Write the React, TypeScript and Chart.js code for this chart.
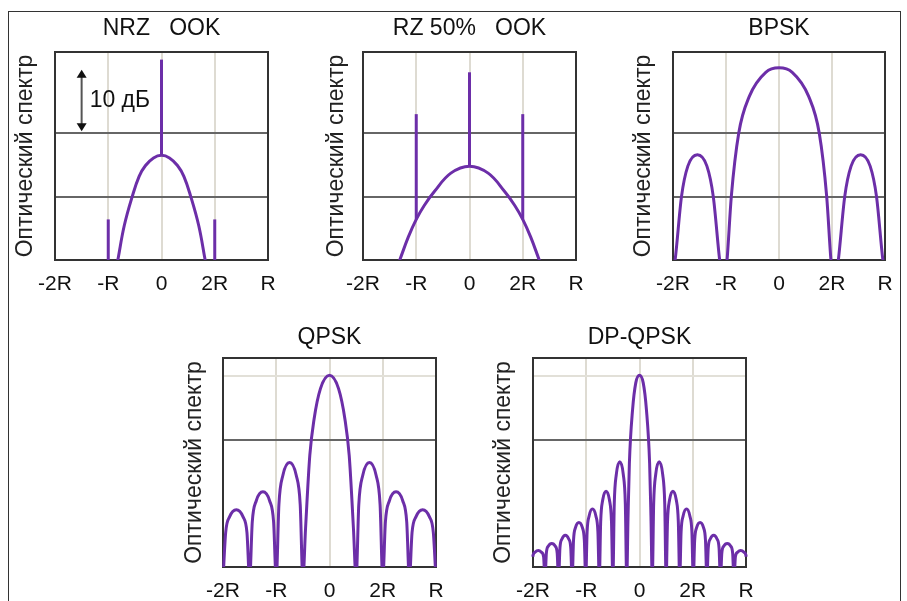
import React, { useEffect, useRef } from 'react';
import { Chart, registerables } from 'chart.js';

Chart.register(...registerables);

const FONT = "'Liberation Sans', Arial, Helvetica, sans-serif";
const PURPLE = '#6c2ea8';

// ---- axes ----
const tickValues = [-2, -1, 0, 1, 2];
const tickLabels = ['-2R', '-R', '0', '2R', 'R'];
const yAxisLabel = 'Оптический спектр';
const yMin = 0;
const yMax = 32.8;

// ---- NRZ OOK ----
const nrzCurveX = [-0.9, -0.82, -0.7, -0.55, -0.42, -0.3, -0.15, 0, 0.15, 0.3, 0.42, 0.55, 0.7, 0.82, 0.9];
const nrzCurveY = [-3.5, 0, 5.4, 10, 13.2, 14.9, 16.1, 16.5, 16.1, 14.9, 13.2, 10, 5.4, 0, -3.5];
const nrzSpikeX = [0, -1, 1];
const nrzSpikeFrom = [16.5, 0, 0];
const nrzSpikeTo = [31.6, 6.4, 6.4];

// ---- RZ 50% OOK ----
const rzCurveX = [-1.4, -1.31, -1.15, -1.0, -0.85, -0.66, -0.35, 0, 0.35, 0.66, 0.85, 1.0, 1.15, 1.31, 1.4];
const rzCurveY = [-1.9, 0, 3.6, 6.4, 8.6, 10.8, 13.7, 14.8, 13.7, 10.8, 8.6, 6.4, 3.6, 0, -1.9];
const rzSpikeX = [0, -1, 1];
const rzSpikeFrom = [14.8, 6.4, 6.4];
const rzSpikeTo = [29.6, 23.0, 23.0];

// ---- BPSK ----
const bpskX = [
  -2.02, -1.96, -1.84, -1.72, -1.54, -1.36, -1.24, -1.12, -1.07,
  -1.02, -0.98, -0.9, -0.76, -0.56, -0.25, 0, 0.25, 0.56, 0.76, 0.9, 0.98, 1.02,
  1.07, 1.12, 1.24, 1.36, 1.54, 1.72, 1.84, 1.96, 2.02,
];
const bpskY = [
  -3, 0, 10, 14.8, 16.6, 14.8, 10, 0, -3,
  -3, 0, 10, 20, 25.8, 29.6, 30.3, 29.6, 25.8, 20, 10, 0, -3,
  -3, 0, 10, 14.8, 16.6, 14.8, 10, 0, -3,
];

// ---- QPSK ----
const qpskX = [
  -2.0, -1.95, -1.875, -1.75, -1.625, -1.55,
  -1.5,
  -1.45, -1.375, -1.25, -1.125, -1.05,
  -1.0,
  -0.95, -0.875, -0.75, -0.625, -0.55,
  -0.5,
  -0.45, -0.37, -0.29, -0.17, 0, 0.17, 0.29, 0.37, 0.45,
  0.5,
  0.55, 0.625, 0.75, 0.875, 0.95,
  1.0,
  1.05, 1.125, 1.25, 1.375, 1.45,
  1.5,
  1.55, 1.625, 1.75, 1.875, 1.95, 2.0,
];
const qpskY = [
  -2, 5.4, 7.9, 9.0, 7.9, 5.4,
  -2,
  7.1, 10.4, 11.8, 10.4, 7.1,
  -2,
  9.8, 14.4, 16.4, 14.4, 9.8,
  -2,
  6, 17.5, 23.2, 28, 30.1, 28, 23.2, 17.5, 6,
  -2,
  9.8, 14.4, 16.4, 14.4, 9.8,
  -2,
  7.1, 10.4, 11.8, 10.4, 7.1,
  -2,
  5.4, 7.9, 9.0, 7.9, 5.4, -2,
];

// ---- DP-QPSK ----
const dpqpskX = [
  -2.03,
  -2.004, -1.966, -1.9, -1.839, -1.801,
  -1.775,
  -1.749, -1.711, -1.648, -1.584, -1.546,
  -1.52,
  -1.494, -1.456, -1.393, -1.329, -1.291,
  -1.265,
  -1.239, -1.201, -1.138, -1.074, -1.036,
  -1.01,
  -0.984, -0.946, -0.883, -0.819, -0.781,
  -0.755,
  -0.729, -0.691, -0.628, -0.564, -0.526,
  -0.5,
  -0.474, -0.436, -0.37, -0.304, -0.266,
  -0.24,
  -0.215, -0.19, -0.13, -0.07, 0, 0.07, 0.13, 0.19, 0.215,
  0.24,
  0.266, 0.304, 0.37, 0.436, 0.474,
  0.5,
  0.526, 0.564, 0.628, 0.691, 0.729,
  0.755,
  0.781, 0.819, 0.883, 0.946, 0.984,
  1.01,
  1.036, 1.074, 1.138, 1.201, 1.239,
  1.265,
  1.291, 1.329, 1.393, 1.456, 1.494,
  1.52,
  1.546, 1.584, 1.648, 1.711, 1.749,
  1.775,
  1.801, 1.839, 1.9, 1.966, 2.004,
  2.03,
];
const dpqpskY = [
  -2,
  1.6, 2.3, 2.6, 2.3, 1.6,
  -2,
  2.2, 3.3, 3.7, 3.3, 2.2,
  -2,
  3.0, 4.4, 5.0, 4.4, 3.0,
  -2,
  4.2, 6.2, 7.0, 6.2, 4.2,
  -2,
  5.5, 8.0, 9.1, 8.0, 5.5,
  -2,
  7.1, 10.5, 11.9, 10.5, 7.1,
  -2,
  9.9, 14.5, 16.5, 14.5, 9.9,
  -2,
  8, 16.3, 24.7, 28.9, 30.1, 28.9, 24.7, 16.3, 8,
  -2,
  9.9, 14.5, 16.5, 14.5, 9.9,
  -2,
  7.1, 10.5, 11.9, 10.5, 7.1,
  -2,
  5.5, 8.0, 9.1, 8.0, 5.5,
  -2,
  4.2, 6.2, 7.0, 6.2, 4.2,
  -2,
  3.0, 4.4, 5.0, 4.4, 3.0,
  -2,
  2.2, 3.3, 3.7, 3.3, 2.2,
  -2,
  1.6, 2.3, 2.6, 2.3, 1.6,
  -2,
];

// ---- 10 dB scale bar (NRZ panel) ----
const scaleBarX = -1.5;
const scaleBarFrom = 20.3;
const scaleBarTo = 30;
const scaleBarLabel = '10 дБ';

type PanelDef = {
  title: string;
  curveX: number[];
  curveY: number[];
  smooth: 'bezier' | 'monotone';
  spikeX?: number[];
  spikeFrom?: number[];
  spikeTo?: number[];
  box: { left: number; top: number; width: number; height: number };
  titlePad: { top: number; bottom: number };
  yLabelPad: number;
  darkGrid: number[];
  lightGrid: number[];
  scaleBar?: boolean;
};

const TOP_TITLE_PAD = { top: 14.7, bottom: 9.7 };
const BOTTOM_TITLE_PAD = { top: 24.2, bottom: 6.2 };

const panels: PanelDef[] = [
  {
    title: 'NRZ   OOK', curveX: nrzCurveX, curveY: nrzCurveY, smooth: 'bezier',
    spikeX: nrzSpikeX, spikeFrom: nrzSpikeFrom, spikeTo: nrzSpikeTo,
    box: { left: 5, top: 0, width: 283, height: 300 },
    titlePad: TOP_TITLE_PAD, yLabelPad: 7.2,
    darkGrid: [10, 20], lightGrid: [], scaleBar: true,
  },
  {
    title: 'RZ 50%   OOK', curveX: rzCurveX, curveY: rzCurveY, smooth: 'bezier',
    spikeX: rzSpikeX, spikeFrom: rzSpikeFrom, spikeTo: rzSpikeTo,
    box: { left: 313, top: 0, width: 283, height: 300 },
    titlePad: TOP_TITLE_PAD, yLabelPad: 10.2,
    darkGrid: [10, 20], lightGrid: [],
  },
  {
    title: 'BPSK', curveX: bpskX, curveY: bpskY, smooth: 'monotone',
    box: { left: 623, top: 0, width: 282, height: 300 },
    titlePad: TOP_TITLE_PAD, yLabelPad: 7.2,
    darkGrid: [10, 20], lightGrid: [],
  },
  {
    title: 'QPSK', curveX: qpskX, curveY: qpskY, smooth: 'monotone',
    box: { left: 173, top: 300, width: 283, height: 307 },
    titlePad: BOTTOM_TITLE_PAD, yLabelPad: 8.2,
    darkGrid: [20], lightGrid: [30],
  },
  {
    title: 'DP-QPSK', curveX: dpqpskX, curveY: dpqpskY, smooth: 'monotone',
    box: { left: 483, top: 300, width: 283, height: 307 },
    titlePad: BOTTOM_TITLE_PAD, yLabelPad: 7.2,
    darkGrid: [20], lightGrid: [30],
  },
];

const framePlugin = {
  id: 'plotFrame',
  beforeDatasetsDraw(chart: any) {
    const { ctx, chartArea } = chart;
    const { left, top, right, bottom } = chartArea;
    ctx.save();
    ctx.strokeStyle = '#333';
    ctx.lineWidth = 2;
    ctx.strokeRect(left, top, right - left, bottom - top);
    ctx.restore();
  },
};

const scaleBarPlugin = {
  id: 'scaleBar',
  afterDatasetsDraw(chart: any) {
    const { ctx } = chart;
    const xs = chart.scales.x;
    const ys = chart.scales.y;
    const x = xs.getPixelForValue(scaleBarX);
    const yTop = ys.getPixelForValue(scaleBarTo);
    const yBot = ys.getPixelForValue(scaleBarFrom);
    const head = 8;
    const half = 5;
    ctx.save();
    ctx.strokeStyle = '#555';
    ctx.lineWidth = 2;
    ctx.beginPath();
    ctx.moveTo(x, yTop + head - 1);
    ctx.lineTo(x, yBot - head + 1);
    ctx.stroke();
    ctx.fillStyle = '#111';
    ctx.beginPath();
    ctx.moveTo(x, yTop);
    ctx.lineTo(x - half, yTop + head);
    ctx.lineTo(x + half, yTop + head);
    ctx.closePath();
    ctx.fill();
    ctx.beginPath();
    ctx.moveTo(x, yBot);
    ctx.lineTo(x - half, yBot - head);
    ctx.lineTo(x + half, yBot - head);
    ctx.closePath();
    ctx.fill();
    ctx.font = `23px ${FONT}`;
    ctx.textAlign = 'left';
    ctx.textBaseline = 'middle';
    ctx.fillStyle = '#111';
    ctx.fillText(scaleBarLabel, x + 8, ys.getPixelForValue((scaleBarFrom + scaleBarTo) / 2));
    ctx.restore();
  },
};

function Panel({ p }: { p: PanelDef }) {
  const ref = useRef<HTMLCanvasElement | null>(null);
  useEffect(() => {
    if (!ref.current) return;
    const clip = { left: 2, top: 2, right: 2, bottom: 0 };
    const datasets: any[] = [
      {
        data: p.curveX.map((x, i) => ({ x, y: p.curveY[i] })),
        borderColor: PURPLE,
        borderWidth: 3,
        pointRadius: 0,
        cubicInterpolationMode: p.smooth === 'monotone' ? 'monotone' : 'default',
        tension: 0.4,
        fill: false,
        clip,
      },
    ];
    (p.spikeX || []).forEach((sx, i) => {
      datasets.push({
        data: [
          { x: sx, y: p.spikeFrom![i] },
          { x: sx, y: p.spikeTo![i] },
        ],
        borderColor: PURPLE,
        borderWidth: 3,
        pointRadius: 0,
        tension: 0,
        fill: false,
        clip,
      });
    });
    const chart = new Chart(ref.current, {
      type: 'line',
      data: { datasets },
      plugins: p.scaleBar ? [framePlugin, scaleBarPlugin] : [framePlugin],
      options: {
        animation: false,
        responsive: false,
        devicePixelRatio: 1,
        events: [],
        layout: { padding: { left: 0, right: 20, top: 0, bottom: 0 } },
        plugins: {
          legend: { display: false },
          tooltip: { enabled: false },
          title: {
            display: true,
            text: p.title,
            fullSize: false,
            color: '#111',
            font: { family: FONT, size: 23, weight: 'normal' },
            padding: { top: p.titlePad.top, bottom: p.titlePad.bottom },
          },
        },
        scales: {
          x: {
            type: 'linear',
            min: tickValues[0],
            max: tickValues[tickValues.length - 1],
            afterBuildTicks: (s: any) => {
              s.ticks = tickValues.map((v) => ({ value: v }));
            },
            afterFit: (s: any) => {
              s.height = 40;
            },
            ticks: {
              autoSkip: false,
              maxRotation: 0,
              minRotation: 0,
              padding: 11.4,
              color: '#111',
              font: { family: FONT, size: 21 },
              callback: (v: any) => tickLabels[tickValues.indexOf(Number(v))],
            },
            grid: {
              drawTicks: false,
              lineWidth: 2,
              color: (c: any) =>
                c.tick && [-1, 0, 1].includes(c.tick.value) ? '#dedbd2' : 'rgba(0,0,0,0)',
            },
            border: { display: false },
          },
          y: {
            type: 'linear',
            min: yMin,
            max: yMax,
            ticks: { display: false, stepSize: 10 },
            afterFit: (s: any) => {
              s.width = 50;
            },
            title: {
              display: true,
              text: yAxisLabel,
              color: '#222',
              font: { family: FONT, size: 23, weight: 'normal' },
              padding: { top: p.yLabelPad, bottom: 0 },
            },
            grid: {
              drawTicks: false,
              lineWidth: 2,
              color: (c: any) => {
                const v = c.tick ? c.tick.value : null;
                if (p.darkGrid.includes(v)) return '#666';
                if (p.lightGrid.includes(v)) return '#e2e0d8';
                return 'rgba(0,0,0,0)';
              },
            },
            border: { display: false },
          },
        },
      } as any,
    });
    return () => chart.destroy();
  }, [p]);
  return (
    <canvas
      ref={ref}
      width={p.box.width}
      height={p.box.height}
      style={{
        position: 'absolute',
        left: p.box.left,
        top: p.box.top,
        width: p.box.width,
        height: p.box.height,
      }}
    />
  );
}

export default function App() {
  return (
    <div
      style={{
        position: 'absolute',
        left: 0,
        top: 0,
        width: 907,
        height: 601,
        overflow: 'hidden',
        background: '#fff',
      }}
    >
      <div
        style={{
          position: 'absolute',
          left: 8,
          top: 11,
          width: 893,
          height: 640,
          border: '1px solid #333',
          boxSizing: 'border-box',
        }}
      />
      {panels.map((p, i) => (
        <Panel key={i} p={p} />
      ))}
    </div>
  );
}
